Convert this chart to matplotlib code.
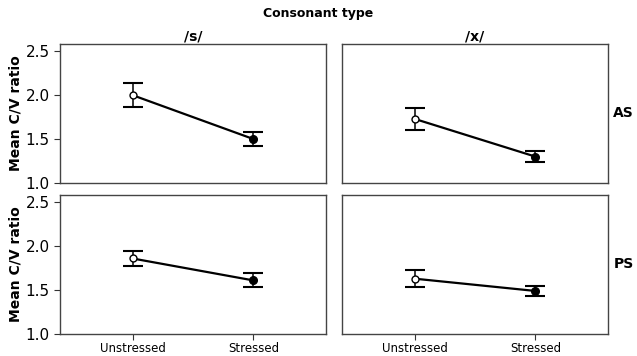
import numpy as np
import matplotlib
matplotlib.use("Agg")
import matplotlib.pyplot as plt

# Mean C/V ratio with error bars, by consonant (columns) and condition (rows)
stress = ['Unstressed', 'Stressed']
consonants = ['/s/', '/x/']
groups = ['AS', 'PS']

means_AS_s = [2.00, 1.50]
err_AS_s = [0.14, 0.075]
means_AS_x = [1.73, 1.30]
err_AS_x = [0.125, 0.065]
means_PS_s = [1.86, 1.61]
err_PS_s = [0.087, 0.08]
means_PS_x = [1.63, 1.49]
err_PS_x = [0.097, 0.06]

yticks = [1.0, 1.5, 2.0, 2.5]

panels = [[(means_AS_s, err_AS_s), (means_AS_x, err_AS_x)],
          [(means_PS_s, err_PS_s), (means_PS_x, err_PS_x)]]

fig = plt.figure(figsize=(6.37, 3.56), dpi=100)
lefts = [0.0942, 0.5369]
bottoms = [0.486, 0.0618]
w, h = 0.4176, 0.391

x = np.arange(len(stress))
for r in range(2):
    for c in range(2):
        ax = fig.add_axes([lefts[c], bottoms[r], w, h])
        m, e = panels[r][c]
        ax.errorbar(x, m, yerr=e, color='black', lw=1.6, capsize=7, capthick=1.5,
                    elinewidth=1.1, fmt='none', zorder=2)
        ax.plot(x, m, color='black', lw=1.6, zorder=3)
        ax.plot(x[0], m[0], 'o', mfc='white', mec='black', ms=5, mew=1, zorder=4)
        ax.plot(x[1], m[1], 'o', mfc='black', mec='black', ms=5.5, zorder=4)
        ax.set_xlim(-0.6, 1.6)
        ax.set_ylim(1.0, 2.585)
        for s in ax.spines.values():
            s.set_color('#444444')
            s.set_linewidth(1.0)
        ax.tick_params(length=4, width=0.8, color='#333333', labelsize=11)
        ax.set_xticks(x)
        ax.set_yticks(yticks)
        if c == 0:
            ax.set_yticklabels([f'{v:.1f}' for v in yticks])
            ax.set_ylabel('Mean C/V ratio', fontsize=10, fontweight='bold', labelpad=2)
        else:
            ax.tick_params(axis='y', left=False, labelleft=False)
        if r == 1:
            ax.set_xticklabels(stress, fontsize=8.5)
            ax.tick_params(axis='x', pad=2)
        else:
            ax.tick_params(axis='x', bottom=False, labelbottom=False)
        if r == 0:
            ax.set_title(consonants[c], fontsize=10, fontweight='bold', pad=0.5)
        if c == 1:
            ax.text(1.02, 0.5, groups[r], transform=ax.transAxes, fontsize=10,
                    fontweight='bold', va='center', ha='left')

fig.text(0.5, 0.962, 'Consonant type', ha='center', va='center',
         fontsize=9, fontweight='bold')

fig.savefig('out.png', dpi=100)
